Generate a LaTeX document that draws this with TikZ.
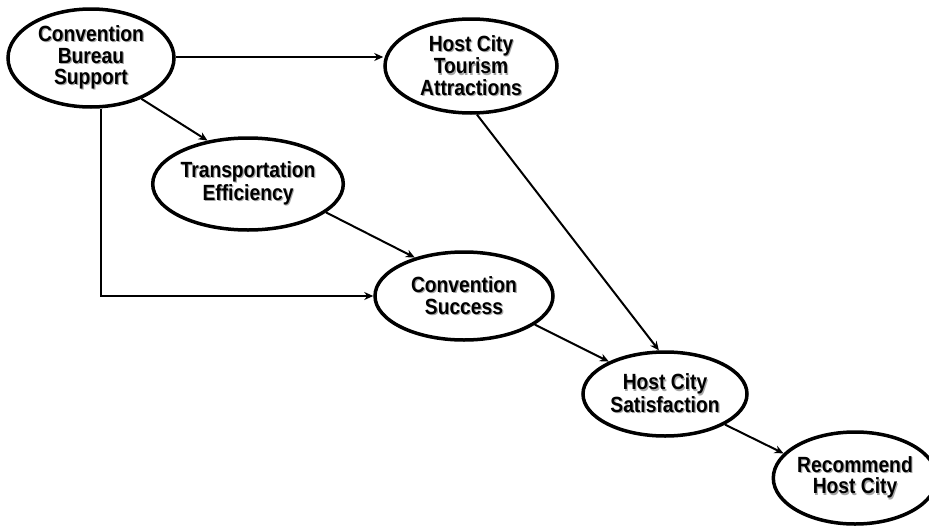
\documentclass[tikz,border=0pt]{standalone}
\usepackage{fontspec}
\usepackage{xcolor}
\usepackage{tikz}
\usetikzlibrary{arrows.meta,shapes.geometric}

\newfontfamily\diagfont{Liberation Sans}[FakeStretch=0.875]
% one line of label text with a soft grey drop shadow
\newcommand{\shline}[1]{\leavevmode\rlap{\hspace{1.2pt}\raisebox{-1.2pt}{\color{black!35}#1}}#1}

\begin{document}
\begin{tikzpicture}[
    x=1pt, y=1pt,
    construct/.style={ellipse, draw=black, line width=3.5pt, fill=white, inner sep=0pt, align=center,
        font=\diagfont\bfseries\fontsize{22}{21.5}\selectfont},
    arrow/.style={line width=2pt, -{Stealth[length=9pt,width=8pt]}}
]
\useasboundingbox (0,0) rectangle (929,-525);

\node (cbs) [construct, minimum width=166pt, minimum height=98pt] at (91,-58) {\shline{Convention}\\\shline{Bureau}\\\shline{Support}};
\node (hcta) [construct, minimum width=172pt, minimum height=94pt] at (471,-66) {\shline{Host City}\\\shline{Tourism}\\\shline{Attractions}};
\node (te) [construct, minimum width=166pt, minimum height=92pt] at (248,-184) {\shline{Transportation}\\\shline{Efficiency}};
\node (cs) [construct, minimum width=178pt, minimum height=88pt] at (464,-296) {\shline{Convention}\\\shline{Success}};
\node (hcs) [construct, minimum width=164pt, minimum height=84pt] at (665,-394) {\shline{Host City}\\\shline{Satisfaction}};
\node (rhc) [construct, minimum width=144pt, minimum height=92pt] at (855,-478) {\shline{Recommend}\\\shline{Host City}};

\draw [arrow] ([yshift=1pt]cbs.east) -- ([yshift=1pt]cbs.east -| hcta.west);
\draw [arrow] (cbs.-39) -- (te.133);
\draw [arrow] ([xshift=10pt]cbs.south) |- (cs.west);
\draw [arrow] (te.-20) -- (cs.142);
\draw [arrow] (hcta.-83) -- (hcs.98);
\draw [arrow] (cs.-22) -- (hcs.150);
\draw [arrow] (hcs.-27) -- (rhc.161);

\end{tikzpicture}
\end{document}
